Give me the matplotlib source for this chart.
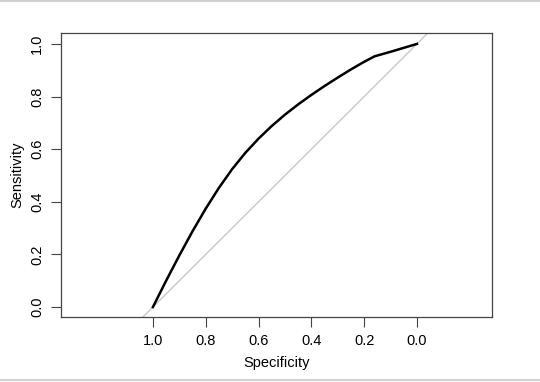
import numpy as np
import matplotlib.pyplot as plt
from matplotlib.lines import Line2D

plt.rcParams['font.family'] = ['Liberation Sans', 'DejaVu Sans']

# ROC curve
specificity = [1.00, 0.95, 0.90, 0.85, 0.80, 0.75, 0.70, 0.65, 0.60, 0.55, 0.50,
               0.45, 0.40, 0.35, 0.30, 0.25, 0.20, 0.16, 0.10, 0.05, 0.00]
sensitivity = [0.000, 0.100, 0.196, 0.288, 0.374, 0.453, 0.524, 0.586, 0.640, 0.688, 0.731,
               0.770, 0.806, 0.840, 0.872, 0.903, 0.932, 0.953, 0.970, 0.985, 1.000]
ticks = [1.0, 0.8, 0.6, 0.4, 0.2, 0.0]

fig = plt.figure(figsize=(5.4, 3.82), dpi=100)
ax = fig.add_axes([0.113, 0.170, 0.798, 0.744])

# diagonal reference line
ax.plot([1.5, -0.5], [-0.5, 1.5], color='#c8c8c8', lw=1)
ax.plot(specificity, sensitivity, color='black', lw=1.8, solid_joinstyle='round')

ax.set_xlim(1.348, -0.284)
ax.set_ylim(-0.038, 1.042)

ax.set_xticks(ticks)
ax.set_xticklabels([f"{t:.1f}" for t in ticks])
ax.set_yticks(ticks)
ax.set_yticklabels([f"{t:.1f}" for t in ticks], rotation=90, va='center')

ax.tick_params(direction='out', length=7, width=0.8, color='#444444', labelsize=10.5, pad=5)
for s in ax.spines.values():
    s.set_color('#444444')
    s.set_linewidth(0.9)

ax.set_xlabel("Specificity", fontsize=10.5, labelpad=6)
ax.set_ylabel("Sensitivity", fontsize=10.5, labelpad=4)

# screenshot border lines
fig.add_artist(Line2D([0, 1], [0.997, 0.997], color='#d0d0d0', lw=1.5))
fig.add_artist(Line2D([0, 1], [0.005, 0.005], color='#d0d0d0', lw=1.5))

fig.savefig('out.png', dpi=100)
